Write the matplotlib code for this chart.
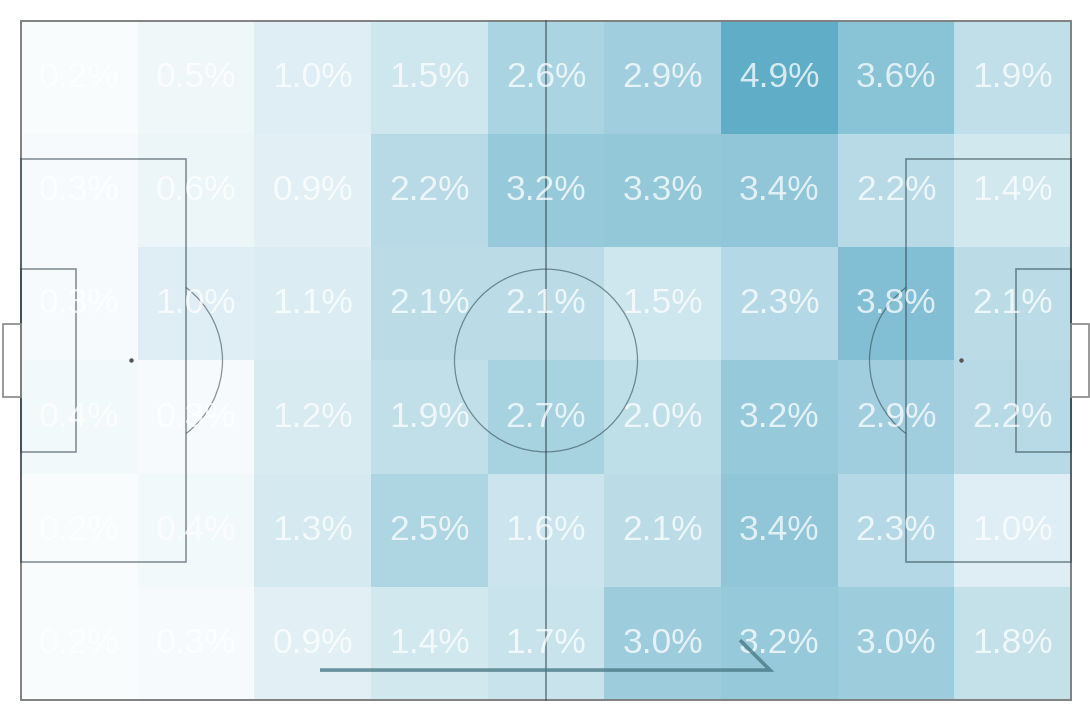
import numpy as np
import matplotlib.pyplot as plt
from matplotlib.patches import Rectangle, Circle, Arc
from matplotlib.colors import LinearSegmentedColormap

# share of actions per zone (%), rows top -> bottom, columns own goal -> opponent goal
zone_rows = ['top', 'upper', 'mid-upper', 'mid-lower', 'lower', 'bottom']
share = [
    [0.2, 0.5, 1.0, 1.5, 2.6, 2.9, 4.9, 3.6, 1.9],
    [0.3, 0.6, 0.9, 2.2, 3.2, 3.3, 3.4, 2.2, 1.4],
    [0.3, 1.0, 1.1, 2.1, 2.1, 1.5, 2.3, 3.8, 2.1],
    [0.4, 0.3, 1.2, 1.9, 2.7, 2.0, 3.2, 2.9, 2.2],
    [0.2, 0.4, 1.3, 2.5, 1.6, 2.1, 3.4, 2.3, 1.0],
    [0.2, 0.3, 0.9, 1.4, 1.7, 3.0, 3.2, 3.0, 1.8],
]
# attack direction arrow (pitch metres)
arrow_x = [29.9, 74.9]
arrow_y = 3.0

L, W = 105.0, 68.0
vals = np.array(share)
nrows, ncols = vals.shape

fig = plt.figure(figsize=(10.9, 7.2), dpi=100)
ax = fig.add_axes([0, 0, 1, 1])
ax.set_xlim(-2.1, 106.9)
ax.set_ylim(-2.0, 70.1)
ax.axis('off')

cmap = LinearSegmentedColormap.from_list('zone', ['#ffffff', '#5fadc7'])
xe = np.linspace(0, L, ncols + 1)
ye = np.linspace(W, 0, nrows + 1)
ax.pcolormesh(xe, ye, vals, cmap=cmap, vmin=0, vmax=vals.max(), zorder=1)

for i in range(nrows):
    for j in range(ncols):
        ax.text((xe[j] + xe[j + 1]) / 2, (ye[i] + ye[i + 1]) / 2, f'{vals[i, j]:.1f}%',
                ha='center', va='center', color='white', alpha=0.75,
                fontsize=25.5, family='Liberation Sans', zorder=4)

# pitch markings
lc = '#2a3f47'
kw = dict(fill=False, ec=lc, alpha=0.55, zorder=3)
ax.add_patch(Rectangle((0, 0), L, W, lw=1.4, ec='#808080', fill=False, zorder=3))
ax.plot([L / 2, L / 2], [0, W], color=lc, alpha=0.55, lw=1.3, zorder=3)
ax.add_patch(Circle((L / 2, W / 2), 9.15, lw=0.9, **kw))
for side in (0, 1):
    x0 = 0 if side == 0 else L
    s = 1 if side == 0 else -1
    ax.add_patch(Rectangle((x0 if side == 0 else L - 16.5, W / 2 - 20.16), 16.5, 40.32, lw=1.2, **kw))
    ax.add_patch(Rectangle((x0 if side == 0 else L - 5.5, W / 2 - 9.16), 5.5, 18.32, lw=1.2, **kw))
    ax.add_patch(Rectangle((-1.8 if side == 0 else L, W / 2 - 3.66), 1.8, 7.32, lw=1.2,
                           ec='#888888', fill=False, zorder=3))
    ax.plot(x0 + s * 11, W / 2, 'o', ms=2.2, color='#555555', zorder=3)
    ang = np.degrees(np.arccos(5.5 / 9.15))
    if side == 0:
        ax.add_patch(Arc((11, W / 2), 18.3, 18.3, theta1=-ang, theta2=ang, lw=0.9, **kw))
    else:
        ax.add_patch(Arc((L - 11, W / 2), 18.3, 18.3, theta1=180 - ang, theta2=180 + ang, lw=0.9, **kw))

ax.plot([arrow_x[0], arrow_x[1], arrow_x[1] - 3.0], [arrow_y, arrow_y, arrow_y + 3.0],
        color='#4a7b87', alpha=0.8, lw=2.6, solid_capstyle='butt', solid_joinstyle='miter', zorder=5)

fig.savefig('out.png', dpi=100)
